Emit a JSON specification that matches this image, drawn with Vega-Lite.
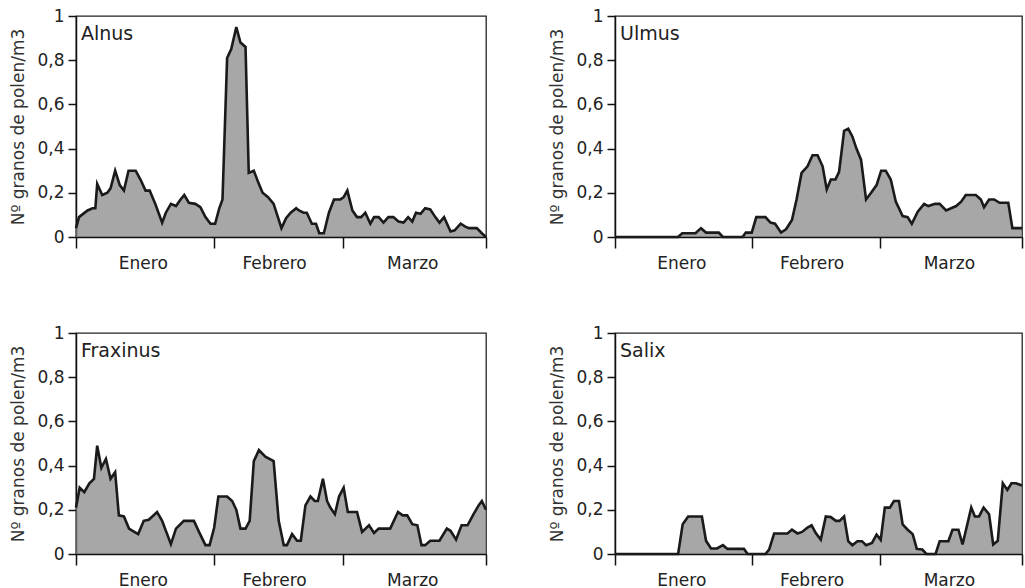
{
  "$schema": "https://vega.github.io/schema/vega-lite/v6.json",
  "padding": {"left": 9, "top": 6, "right": 0, "bottom": 0},
  "background": "white",
  "config": {
    "font": "DejaVu Sans",
    "view": {"stroke": "#222222", "strokeWidth": 1.3},
    "axis": {"grid": false, "domainColor": "#111111", "domainWidth": 1.5, "tickColor": "#111111", "tickWidth": 1.5, "labelColor": "#222222", "titleColor": "#333333", "labelFont": "DejaVu Sans", "titleFont": "DejaVu Sans"}
  },
  "data": {"values": [
    {"especie":"Alnus","dia":1,"polen":0.04},{"especie":"Alnus","dia":1.65,"polen":0.09},{"especie":"Alnus","dia":3.5,"polen":0.12},{"especie":"Alnus","dia":4.6,"polen":0.13},{"especie":"Alnus","dia":5.2,"polen":0.13},{"especie":"Alnus","dia":5.6,"polen":0.24},{"especie":"Alnus","dia":6.7,"polen":0.19},{"especie":"Alnus","dia":7.8,"polen":0.2},{"especie":"Alnus","dia":8.5,"polen":0.22},{"especie":"Alnus","dia":9.5,"polen":0.3},{"especie":"Alnus","dia":10.5,"polen":0.235},{"especie":"Alnus","dia":11.4,"polen":0.21},{"especie":"Alnus","dia":12.4,"polen":0.3},{"especie":"Alnus","dia":13.95,"polen":0.3},{"especie":"Alnus","dia":15,"polen":0.26},{"especie":"Alnus","dia":16.1,"polen":0.21},{"especie":"Alnus","dia":17,"polen":0.21},{"especie":"Alnus","dia":18.3,"polen":0.145},{"especie":"Alnus","dia":19.7,"polen":0.065},{"especie":"Alnus","dia":20.5,"polen":0.11},{"especie":"Alnus","dia":21.6,"polen":0.15},{"especie":"Alnus","dia":22.7,"polen":0.14},{"especie":"Alnus","dia":23.7,"polen":0.17},{"especie":"Alnus","dia":24.5,"polen":0.19},{"especie":"Alnus","dia":25.5,"polen":0.155},{"especie":"Alnus","dia":26.9,"polen":0.15},{"especie":"Alnus","dia":28,"polen":0.135},{"especie":"Alnus","dia":29.1,"polen":0.09},{"especie":"Alnus","dia":30.2,"polen":0.06},{"especie":"Alnus","dia":31.2,"polen":0.06},{"especie":"Alnus","dia":32.1,"polen":0.13},{"especie":"Alnus","dia":32.8,"polen":0.17},{"especie":"Alnus","dia":33.8,"polen":0.81},{"especie":"Alnus","dia":34.7,"polen":0.85},{"especie":"Alnus","dia":35.8,"polen":0.95},{"especie":"Alnus","dia":36.7,"polen":0.88},{"especie":"Alnus","dia":37.8,"polen":0.86},{"especie":"Alnus","dia":38.5,"polen":0.29},{"especie":"Alnus","dia":39.6,"polen":0.3},{"especie":"Alnus","dia":40.6,"polen":0.245},{"especie":"Alnus","dia":41.5,"polen":0.2},{"especie":"Alnus","dia":42.7,"polen":0.18},{"especie":"Alnus","dia":43.9,"polen":0.15},{"especie":"Alnus","dia":45.6,"polen":0.04},{"especie":"Alnus","dia":46.6,"polen":0.085},{"especie":"Alnus","dia":47.6,"polen":0.11},{"especie":"Alnus","dia":48.8,"polen":0.13},{"especie":"Alnus","dia":49.4,"polen":0.12},{"especie":"Alnus","dia":50.4,"polen":0.11},{"especie":"Alnus","dia":51.1,"polen":0.11},{"especie":"Alnus","dia":52.2,"polen":0.06},{"especie":"Alnus","dia":53.1,"polen":0.06},{"especie":"Alnus","dia":53.8,"polen":0.017},{"especie":"Alnus","dia":54.8,"polen":0.017},{"especie":"Alnus","dia":55.9,"polen":0.11},{"especie":"Alnus","dia":57,"polen":0.17},{"especie":"Alnus","dia":58.4,"polen":0.17},{"especie":"Alnus","dia":59.1,"polen":0.18},{"especie":"Alnus","dia":59.9,"polen":0.21},{"especie":"Alnus","dia":61,"polen":0.12},{"especie":"Alnus","dia":62,"polen":0.09},{"especie":"Alnus","dia":62.9,"polen":0.09},{"especie":"Alnus","dia":63.8,"polen":0.11},{"especie":"Alnus","dia":64.9,"polen":0.06},{"especie":"Alnus","dia":65.7,"polen":0.09},{"especie":"Alnus","dia":66.7,"polen":0.09},{"especie":"Alnus","dia":67.75,"polen":0.065},{"especie":"Alnus","dia":68.8,"polen":0.09},{"especie":"Alnus","dia":69.9,"polen":0.09},{"especie":"Alnus","dia":71,"polen":0.07},{"especie":"Alnus","dia":72.1,"polen":0.065},{"especie":"Alnus","dia":73.1,"polen":0.09},{"especie":"Alnus","dia":74,"polen":0.07},{"especie":"Alnus","dia":74.8,"polen":0.11},{"especie":"Alnus","dia":75.8,"polen":0.105},{"especie":"Alnus","dia":76.8,"polen":0.13},{"especie":"Alnus","dia":77.9,"polen":0.125},{"especie":"Alnus","dia":79,"polen":0.09},{"especie":"Alnus","dia":79.9,"polen":0.065},{"especie":"Alnus","dia":80.9,"polen":0.09},{"especie":"Alnus","dia":82.3,"polen":0.025},{"especie":"Alnus","dia":83.2,"polen":0.03},{"especie":"Alnus","dia":84.5,"polen":0.06},{"especie":"Alnus","dia":85.5,"polen":0.047},{"especie":"Alnus","dia":86.3,"polen":0.04},{"especie":"Alnus","dia":88,"polen":0.04},{"especie":"Alnus","dia":89.1,"polen":0.017},{"especie":"Alnus","dia":90,"polen":0},

    {"especie":"Ulmus","dia":1,"polen":0},{"especie":"Ulmus","dia":14.8,"polen":0},{"especie":"Ulmus","dia":15.7,"polen":0.017},{"especie":"Ulmus","dia":18.6,"polen":0.017},{"especie":"Ulmus","dia":19.8,"polen":0.04},{"especie":"Ulmus","dia":20.9,"polen":0.02},{"especie":"Ulmus","dia":23.7,"polen":0.02},{"especie":"Ulmus","dia":24.6,"polen":0},{"especie":"Ulmus","dia":28.9,"polen":0},{"especie":"Ulmus","dia":29.6,"polen":0.02},{"especie":"Ulmus","dia":30.9,"polen":0.02},{"especie":"Ulmus","dia":31.9,"polen":0.09},{"especie":"Ulmus","dia":33.9,"polen":0.09},{"especie":"Ulmus","dia":35,"polen":0.065},{"especie":"Ulmus","dia":36,"polen":0.06},{"especie":"Ulmus","dia":37.3,"polen":0.02},{"especie":"Ulmus","dia":38.4,"polen":0.035},{"especie":"Ulmus","dia":39.7,"polen":0.077},{"especie":"Ulmus","dia":40.7,"polen":0.17},{"especie":"Ulmus","dia":41.8,"polen":0.29},{"especie":"Ulmus","dia":43.1,"polen":0.32},{"especie":"Ulmus","dia":44.2,"polen":0.37},{"especie":"Ulmus","dia":45.3,"polen":0.37},{"especie":"Ulmus","dia":46.4,"polen":0.32},{"especie":"Ulmus","dia":47.3,"polen":0.215},{"especie":"Ulmus","dia":48.2,"polen":0.26},{"especie":"Ulmus","dia":49.2,"polen":0.26},{"especie":"Ulmus","dia":50,"polen":0.295},{"especie":"Ulmus","dia":51.1,"polen":0.48},{"especie":"Ulmus","dia":52,"polen":0.49},{"especie":"Ulmus","dia":52.9,"polen":0.455},{"especie":"Ulmus","dia":53.8,"polen":0.4},{"especie":"Ulmus","dia":54.8,"polen":0.35},{"especie":"Ulmus","dia":55.9,"polen":0.17},{"especie":"Ulmus","dia":57,"polen":0.2},{"especie":"Ulmus","dia":58.2,"polen":0.235},{"especie":"Ulmus","dia":59.2,"polen":0.3},{"especie":"Ulmus","dia":60.2,"polen":0.3},{"especie":"Ulmus","dia":61.3,"polen":0.26},{"especie":"Ulmus","dia":62.4,"polen":0.16},{"especie":"Ulmus","dia":63.9,"polen":0.095},{"especie":"Ulmus","dia":65,"polen":0.09},{"especie":"Ulmus","dia":65.9,"polen":0.06},{"especie":"Ulmus","dia":67.2,"polen":0.115},{"especie":"Ulmus","dia":68.6,"polen":0.15},{"especie":"Ulmus","dia":69.5,"polen":0.14},{"especie":"Ulmus","dia":71,"polen":0.15},{"especie":"Ulmus","dia":72,"polen":0.15},{"especie":"Ulmus","dia":73.4,"polen":0.12},{"especie":"Ulmus","dia":74.5,"polen":0.13},{"especie":"Ulmus","dia":75.6,"polen":0.14},{"especie":"Ulmus","dia":76.7,"polen":0.16},{"especie":"Ulmus","dia":77.7,"polen":0.19},{"especie":"Ulmus","dia":79.9,"polen":0.19},{"especie":"Ulmus","dia":81,"polen":0.17},{"especie":"Ulmus","dia":81.7,"polen":0.135},{"especie":"Ulmus","dia":82.8,"polen":0.17},{"especie":"Ulmus","dia":83.9,"polen":0.17},{"especie":"Ulmus","dia":85.1,"polen":0.155},{"especie":"Ulmus","dia":87,"polen":0.155},{"especie":"Ulmus","dia":87.9,"polen":0.04},{"especie":"Ulmus","dia":90,"polen":0.04},

    {"especie":"Fraxinus","dia":1,"polen":0.21},{"especie":"Fraxinus","dia":1.8,"polen":0.3},{"especie":"Fraxinus","dia":2.8,"polen":0.28},{"especie":"Fraxinus","dia":3.9,"polen":0.32},{"especie":"Fraxinus","dia":4.9,"polen":0.34},{"especie":"Fraxinus","dia":5.6,"polen":0.49},{"especie":"Fraxinus","dia":6.5,"polen":0.39},{"especie":"Fraxinus","dia":7.5,"polen":0.43},{"especie":"Fraxinus","dia":8.5,"polen":0.34},{"especie":"Fraxinus","dia":9.5,"polen":0.37},{"especie":"Fraxinus","dia":10.3,"polen":0.175},{"especie":"Fraxinus","dia":11.4,"polen":0.17},{"especie":"Fraxinus","dia":12.5,"polen":0.115},{"especie":"Fraxinus","dia":13.3,"polen":0.105},{"especie":"Fraxinus","dia":14.5,"polen":0.09},{"especie":"Fraxinus","dia":15.7,"polen":0.15},{"especie":"Fraxinus","dia":16.8,"polen":0.155},{"especie":"Fraxinus","dia":18.6,"polen":0.19},{"especie":"Fraxinus","dia":19.7,"polen":0.15},{"especie":"Fraxinus","dia":20.6,"polen":0.1},{"especie":"Fraxinus","dia":21.6,"polen":0.045},{"especie":"Fraxinus","dia":22.7,"polen":0.115},{"especie":"Fraxinus","dia":24.4,"polen":0.15},{"especie":"Fraxinus","dia":26.6,"polen":0.15},{"especie":"Fraxinus","dia":27.7,"polen":0.1},{"especie":"Fraxinus","dia":29.1,"polen":0.04},{"especie":"Fraxinus","dia":30,"polen":0.04},{"especie":"Fraxinus","dia":31,"polen":0.12},{"especie":"Fraxinus","dia":31.9,"polen":0.26},{"especie":"Fraxinus","dia":33.8,"polen":0.26},{"especie":"Fraxinus","dia":34.9,"polen":0.24},{"especie":"Fraxinus","dia":35.8,"polen":0.2},{"especie":"Fraxinus","dia":36.7,"polen":0.115},{"especie":"Fraxinus","dia":37.8,"polen":0.115},{"especie":"Fraxinus","dia":38.7,"polen":0.15},{"especie":"Fraxinus","dia":39.6,"polen":0.42},{"especie":"Fraxinus","dia":40.7,"polen":0.47},{"especie":"Fraxinus","dia":42.1,"polen":0.44},{"especie":"Fraxinus","dia":43.9,"polen":0.42},{"especie":"Fraxinus","dia":45,"polen":0.15},{"especie":"Fraxinus","dia":46.1,"polen":0.04},{"especie":"Fraxinus","dia":46.8,"polen":0.04},{"especie":"Fraxinus","dia":47.9,"polen":0.09},{"especie":"Fraxinus","dia":49,"polen":0.06},{"especie":"Fraxinus","dia":49.8,"polen":0.06},{"especie":"Fraxinus","dia":50.8,"polen":0.22},{"especie":"Fraxinus","dia":51.9,"polen":0.26},{"especie":"Fraxinus","dia":52.8,"polen":0.24},{"especie":"Fraxinus","dia":53.5,"polen":0.24},{"especie":"Fraxinus","dia":54.6,"polen":0.34},{"especie":"Fraxinus","dia":55.5,"polen":0.24},{"especie":"Fraxinus","dia":56.2,"polen":0.21},{"especie":"Fraxinus","dia":57.2,"polen":0.18},{"especie":"Fraxinus","dia":58.1,"polen":0.26},{"especie":"Fraxinus","dia":59.1,"polen":0.3},{"especie":"Fraxinus","dia":60,"polen":0.19},{"especie":"Fraxinus","dia":62,"polen":0.19},{"especie":"Fraxinus","dia":63.1,"polen":0.1},{"especie":"Fraxinus","dia":64.6,"polen":0.13},{"especie":"Fraxinus","dia":65.7,"polen":0.095},{"especie":"Fraxinus","dia":66.7,"polen":0.115},{"especie":"Fraxinus","dia":69.2,"polen":0.115},{"especie":"Fraxinus","dia":70.9,"polen":0.19},{"especie":"Fraxinus","dia":71.9,"polen":0.175},{"especie":"Fraxinus","dia":72.9,"polen":0.175},{"especie":"Fraxinus","dia":74,"polen":0.135},{"especie":"Fraxinus","dia":75.1,"polen":0.13},{"especie":"Fraxinus","dia":76,"polen":0.04},{"especie":"Fraxinus","dia":76.8,"polen":0.04},{"especie":"Fraxinus","dia":77.9,"polen":0.06},{"especie":"Fraxinus","dia":79.9,"polen":0.06},{"especie":"Fraxinus","dia":81.5,"polen":0.115},{"especie":"Fraxinus","dia":82.3,"polen":0.105},{"especie":"Fraxinus","dia":83.5,"polen":0.065},{"especie":"Fraxinus","dia":84.7,"polen":0.13},{"especie":"Fraxinus","dia":86,"polen":0.13},{"especie":"Fraxinus","dia":87.3,"polen":0.18},{"especie":"Fraxinus","dia":88.4,"polen":0.22},{"especie":"Fraxinus","dia":89.1,"polen":0.24},{"especie":"Fraxinus","dia":90,"polen":0.2},

    {"especie":"Salix","dia":1,"polen":0},{"especie":"Salix","dia":14.8,"polen":0},{"especie":"Salix","dia":15.8,"polen":0.135},{"especie":"Salix","dia":17,"polen":0.17},{"especie":"Salix","dia":20,"polen":0.17},{"especie":"Salix","dia":20.9,"polen":0.06},{"especie":"Salix","dia":22,"polen":0.025},{"especie":"Salix","dia":23.3,"polen":0.025},{"especie":"Salix","dia":24.6,"polen":0.04},{"especie":"Salix","dia":25.6,"polen":0.023},{"especie":"Salix","dia":29.2,"polen":0.023},{"especie":"Salix","dia":30,"polen":0},{"especie":"Salix","dia":33.9,"polen":0},{"especie":"Salix","dia":34.7,"polen":0.02},{"especie":"Salix","dia":35.8,"polen":0.093},{"especie":"Salix","dia":38.7,"polen":0.093},{"especie":"Salix","dia":39.7,"polen":0.11},{"especie":"Salix","dia":40.9,"polen":0.093},{"especie":"Salix","dia":41.9,"polen":0.1},{"especie":"Salix","dia":43.1,"polen":0.12},{"especie":"Salix","dia":44,"polen":0.13},{"especie":"Salix","dia":44.9,"polen":0.095},{"especie":"Salix","dia":46,"polen":0.065},{"especie":"Salix","dia":47.1,"polen":0.17},{"especie":"Salix","dia":48.2,"polen":0.167},{"especie":"Salix","dia":49.3,"polen":0.15},{"especie":"Salix","dia":50.1,"polen":0.15},{"especie":"Salix","dia":51.1,"polen":0.17},{"especie":"Salix","dia":52,"polen":0.058},{"especie":"Salix","dia":52.9,"polen":0.04},{"especie":"Salix","dia":54,"polen":0.058},{"especie":"Salix","dia":55,"polen":0.058},{"especie":"Salix","dia":55.9,"polen":0.04},{"especie":"Salix","dia":57.2,"polen":0.05},{"especie":"Salix","dia":58.2,"polen":0.088},{"especie":"Salix","dia":59.1,"polen":0.064},{"especie":"Salix","dia":60,"polen":0.21},{"especie":"Salix","dia":61.1,"polen":0.21},{"especie":"Salix","dia":62,"polen":0.24},{"especie":"Salix","dia":63.1,"polen":0.24},{"especie":"Salix","dia":63.9,"polen":0.134},{"especie":"Salix","dia":65,"polen":0.11},{"especie":"Salix","dia":66.1,"polen":0.09},{"especie":"Salix","dia":67,"polen":0.023},{"especie":"Salix","dia":68.2,"polen":0.02},{"especie":"Salix","dia":69.1,"polen":0},{"especie":"Salix","dia":71.1,"polen":0},{"especie":"Salix","dia":72,"polen":0.058},{"especie":"Salix","dia":73.9,"polen":0.058},{"especie":"Salix","dia":74.8,"polen":0.11},{"especie":"Salix","dia":76.1,"polen":0.11},{"especie":"Salix","dia":77,"polen":0.043},{"especie":"Salix","dia":78.9,"polen":0.21},{"especie":"Salix","dia":79.7,"polen":0.17},{"especie":"Salix","dia":80.6,"polen":0.17},{"especie":"Salix","dia":81.6,"polen":0.21},{"especie":"Salix","dia":82.8,"polen":0.18},{"especie":"Salix","dia":83.7,"polen":0.043},{"especie":"Salix","dia":84.7,"polen":0.06},{"especie":"Salix","dia":85.8,"polen":0.32},{"especie":"Salix","dia":86.8,"polen":0.29},{"especie":"Salix","dia":87.7,"polen":0.32},{"especie":"Salix","dia":88.7,"polen":0.32},{"especie":"Salix","dia":90,"polen":0.31}
  ]},
  "columns": 2,
  "spacing": {"row": 96, "column": 129},
  "bounds": "flush",
  "concat": [
    {
      "width": 410, "height": 221,
      "transform": [{"filter": "datum.especie == 'Alnus'"}],
      "layer": [
        {"mark": {"type": "area", "color": "#828282", "line": {"color": "#1a1a1a", "strokeWidth": 2.6}},
         "encoding": {
           "x": {"field": "dia", "type": "quantitative", "scale": {"domain": [1, 90], "nice": false, "zero": false},
                 "axis": {"title": null, "values": [1, 15.5, 31, 44, 59, 74, 90], "tickSize": 11, "tickOpacity": {"condition": {"test": "indexof([1,31,59,90], datum.value) >= 0", "value": 1}, "value": 0}, "labelExpr": "datum.value == 15.5 ? 'Enero' : datum.value == 44 ? 'Febrero' : datum.value == 74 ? 'Marzo' : ''", "labelFontSize": 17, "labelPadding": 7, "labelFlush": false, "labelOverlap": false}},
           "y": {"field": "polen", "type": "quantitative", "scale": {"domain": [0, 1], "nice": false},
                 "axis": {"title": "Nº granos de polen/m3", "titleFontSize": 17, "titleFontWeight": "normal", "titlePadding": 9, "values": [0, 0.2, 0.4, 0.6, 0.8, 1], "tickSize": 8, "labelPadding": 4, "labelFontSize": 17, "labelExpr": "replace(format(datum.value, '.1~f'), '.', ',')"}}
         }},
        {"transform": [{"filter": "datum.dia == 1"}],
         "mark": {"type": "text", "align": "left", "baseline": "top", "dx": 5, "dy": 9, "fontSize": 19, "color": "#222222"},
         "encoding": {"x": {"datum": 1, "type": "quantitative"}, "y": {"datum": 1, "type": "quantitative"}, "text": {"field": "especie"}}}
      ]
    },
    {
      "width": 407, "height": 221,
      "transform": [{"filter": "datum.especie == 'Ulmus'"}],
      "layer": [
        {"mark": {"type": "area", "color": "#828282", "line": {"color": "#1a1a1a", "strokeWidth": 2.6}},
         "encoding": {
           "x": {"field": "dia", "type": "quantitative", "scale": {"domain": [1, 90], "nice": false, "zero": false},
                 "axis": {"title": null, "values": [1, 15.5, 31, 44, 59, 74, 90], "tickSize": 11, "tickOpacity": {"condition": {"test": "indexof([1,31,59,90], datum.value) >= 0", "value": 1}, "value": 0}, "labelExpr": "datum.value == 15.5 ? 'Enero' : datum.value == 44 ? 'Febrero' : datum.value == 74 ? 'Marzo' : ''", "labelFontSize": 17, "labelPadding": 7, "labelFlush": false, "labelOverlap": false}},
           "y": {"field": "polen", "type": "quantitative", "scale": {"domain": [0, 1], "nice": false},
                 "axis": {"title": "Nº granos de polen/m3", "titleFontSize": 17, "titleFontWeight": "normal", "titlePadding": 9, "values": [0, 0.2, 0.4, 0.6, 0.8, 1], "tickSize": 8, "labelPadding": 4, "labelFontSize": 17, "labelExpr": "replace(format(datum.value, '.1~f'), '.', ',')"}}
         }},
        {"transform": [{"filter": "datum.dia == 1"}],
         "mark": {"type": "text", "align": "left", "baseline": "top", "dx": 5, "dy": 9, "fontSize": 19, "color": "#222222"},
         "encoding": {"x": {"datum": 1, "type": "quantitative"}, "y": {"datum": 1, "type": "quantitative"}, "text": {"field": "especie"}}}
      ]
    },
    {
      "width": 410, "height": 221,
      "transform": [{"filter": "datum.especie == 'Fraxinus'"}],
      "layer": [
        {"mark": {"type": "area", "color": "#828282", "line": {"color": "#1a1a1a", "strokeWidth": 2.6}},
         "encoding": {
           "x": {"field": "dia", "type": "quantitative", "scale": {"domain": [1, 90], "nice": false, "zero": false},
                 "axis": {"title": null, "values": [1, 15.5, 31, 44, 59, 74, 90], "tickSize": 11, "tickOpacity": {"condition": {"test": "indexof([1,31,59,90], datum.value) >= 0", "value": 1}, "value": 0}, "labelExpr": "datum.value == 15.5 ? 'Enero' : datum.value == 44 ? 'Febrero' : datum.value == 74 ? 'Marzo' : ''", "labelFontSize": 17, "labelPadding": 7, "labelFlush": false, "labelOverlap": false}},
           "y": {"field": "polen", "type": "quantitative", "scale": {"domain": [0, 1], "nice": false},
                 "axis": {"title": "Nº granos de polen/m3", "titleFontSize": 17, "titleFontWeight": "normal", "titlePadding": 9, "values": [0, 0.2, 0.4, 0.6, 0.8, 1], "tickSize": 8, "labelPadding": 4, "labelFontSize": 17, "labelExpr": "replace(format(datum.value, '.1~f'), '.', ',')"}}
         }},
        {"transform": [{"filter": "datum.dia == 1"}],
         "mark": {"type": "text", "align": "left", "baseline": "top", "dx": 5, "dy": 9, "fontSize": 19, "color": "#222222"},
         "encoding": {"x": {"datum": 1, "type": "quantitative"}, "y": {"datum": 1, "type": "quantitative"}, "text": {"field": "especie"}}}
      ]
    },
    {
      "width": 407, "height": 221,
      "transform": [{"filter": "datum.especie == 'Salix'"}],
      "layer": [
        {"mark": {"type": "area", "color": "#828282", "line": {"color": "#1a1a1a", "strokeWidth": 2.6}},
         "encoding": {
           "x": {"field": "dia", "type": "quantitative", "scale": {"domain": [1, 90], "nice": false, "zero": false},
                 "axis": {"title": null, "values": [1, 15.5, 31, 44, 59, 74, 90], "tickSize": 11, "tickOpacity": {"condition": {"test": "indexof([1,31,59,90], datum.value) >= 0", "value": 1}, "value": 0}, "labelExpr": "datum.value == 15.5 ? 'Enero' : datum.value == 44 ? 'Febrero' : datum.value == 74 ? 'Marzo' : ''", "labelFontSize": 17, "labelPadding": 7, "labelFlush": false, "labelOverlap": false}},
           "y": {"field": "polen", "type": "quantitative", "scale": {"domain": [0, 1], "nice": false},
                 "axis": {"title": "Nº granos de polen/m3", "titleFontSize": 17, "titleFontWeight": "normal", "titlePadding": 9, "values": [0, 0.2, 0.4, 0.6, 0.8, 1], "tickSize": 8, "labelPadding": 4, "labelFontSize": 17, "labelExpr": "replace(format(datum.value, '.1~f'), '.', ',')"}}
         }},
        {"transform": [{"filter": "datum.dia == 1"}],
         "mark": {"type": "text", "align": "left", "baseline": "top", "dx": 5, "dy": 9, "fontSize": 19, "color": "#222222"},
         "encoding": {"x": {"datum": 1, "type": "quantitative"}, "y": {"datum": 1, "type": "quantitative"}, "text": {"field": "especie"}}}
      ]
    }
  ]
}
